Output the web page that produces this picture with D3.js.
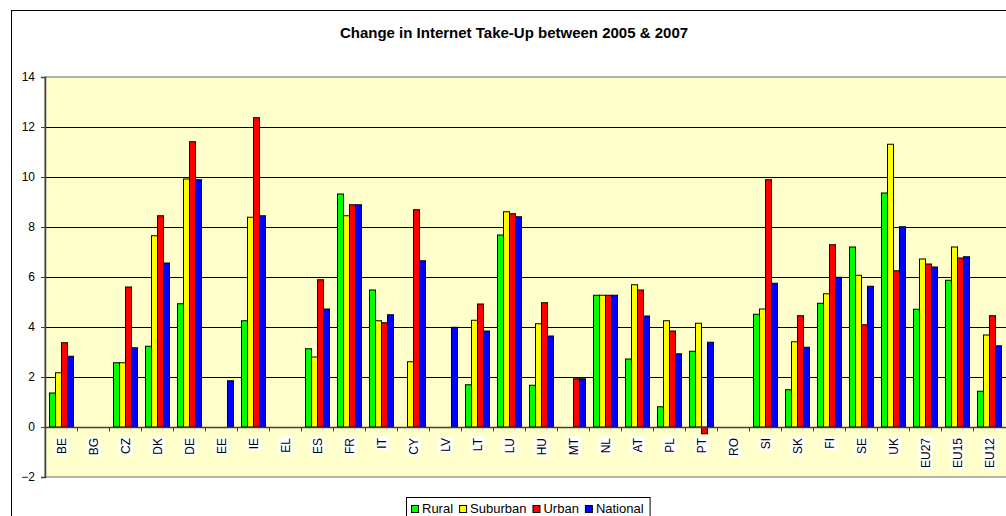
<!DOCTYPE html>
<html>
<head>
<meta charset="utf-8">
<script src="https://cdn.jsdelivr.net/npm/d3@7"></script>
<style>
  body { margin: 0; background: #fff; }
  svg { display: block; font-family: 'Liberation Sans', Arial, sans-serif; }
</style>
</head>
<body>
<svg id="chart" width="1006" height="516"></svg>
<script>
// Change in Internet take-up 2005 -> 2007, by area type

const countries = ['BE', 'BG', 'CZ', 'DK', 'DE', 'EE', 'IE', 'EL', 'ES', 'FR', 'IT', 'CY', 'LV', 'LT', 'LU',
    'HU', 'MT', 'NL', 'AT', 'PL', 'PT', 'RO', 'SI', 'SK', 'FI', 'SE', 'UK', 'EU27', 'EU15', 'EU12'];

const seriesNames = ['Rural', 'Suburban', 'Urban', 'National'];
const seriesColors = ['#00ff00', '#ffff00', '#ff0000', '#0000ff'];

// null = no bar shown
const rural = [1.36, null, 2.57, 3.23, 4.93, null, 4.25, null, 3.13, 9.32, 5.48, null, null, 1.69, 7.68,
    1.67, null, 5.27, 2.72, 0.81, 3.03, null, 4.51, 1.49, 4.95, 7.20, 9.36, 4.71, 5.87, 1.43];
const suburban = [2.17, null, 2.57, 7.65, 9.92, null, 8.39, null, 2.80, 8.45, 4.25, 2.61, null, 4.27, 8.61,
    4.13, null, 5.27, 5.69, 4.25, 4.15, null, 4.72, 3.41, 5.33, 6.07, 11.31, 6.72, 7.20, 3.68];
const urban = [3.37, null, 5.60, 8.45, 11.41, null, 12.37, null, 5.89, 8.89, 4.17, 8.69, null, 4.92, 8.53,
    4.97, 1.93, 5.27, 5.48, 3.84, -0.27, null, 9.89, 4.45, 7.29, 4.09, 6.25, 6.52, 6.76, 4.45];
const national = [2.83, null, 3.17, 6.56, 9.89, 1.85, 8.45, null, 4.72, 8.89, 4.49, 6.65, 3.99, 3.84, 8.41,
    3.64, 1.93, 5.27, 4.44, 2.93, 3.39, null, 5.75, 3.19, 5.99, 5.63, 8.01, 6.40, 6.81, 3.25];

const yTicks = [-2, 0, 2, 4, 6, 8, 10, 12, 14];

const seriesValues = [rural, suburban, urban, national];

const FONT = "'Liberation Sans', Arial, sans-serif";

const svg = d3.select('#chart');

// outer chart frame (runs off the right and bottom edge)
svg.append('rect')
    .attr('x', 11.5).attr('y', 10.5)
    .attr('width', 1100).attr('height', 600)
    .attr('fill', '#fff')
    .attr('stroke', '#000')
    .attr('stroke-width', 1);

const plot = { left: 45, top: 77, width: 960, height: 400 };

const x0 = d3.scaleBand()
    .domain(countries)
    .range([plot.left, plot.left + plot.width])
    .paddingInner(0)
    .paddingOuter(0);

const x1 = d3.scaleBand()
    .domain(seriesNames)
    .range([4, 28]);

const y = d3.scaleLinear()
    .domain([-2, 14])
    .range([plot.top + plot.height, plot.top]);

// plot background
svg.append('rect')
    .attr('x', plot.left).attr('y', plot.top)
    .attr('width', plot.width + 20).attr('height', plot.height)
    .attr('fill', '#ffffcc')
    .attr('stroke', '#808080')
    .attr('stroke-width', 1.2);

// gridlines
svg.append('g')
    .selectAll('line')
    .data(yTicks.filter(t => t > 0 && t < 14))
    .enter()
    .append('line')
    .attr('x1', plot.left).attr('x2', plot.left + plot.width + 20)
    .attr('y1', d => Math.round(y(d)) + 0.5).attr('y2', d => Math.round(y(d)) + 0.5)
    .attr('stroke', '#000')
    .attr('stroke-width', 1);

// y axis
const yAxis = svg.append('g')
    .attr('transform', `translate(${plot.left},0)`)
    .call(d3.axisLeft(y).tickValues(yTicks).tickSize(4).tickPadding(6).tickFormat(d3.format('d')));
yAxis.select('.domain').attr('stroke', '#404040').attr('stroke-width', 1.5);
yAxis.selectAll('.tick line').attr('stroke', '#404040');
yAxis.selectAll('.tick text')
    .style('font-size', '12px')
    .style('font-family', FONT)
    .attr('fill', '#000');

// bars
const groups = svg.append('g')
    .selectAll('g')
    .data(countries)
    .enter()
    .append('g')
    .attr('transform', d => `translate(${x0(d)},0)`);

groups.selectAll('rect')
    .data((c, i) => seriesNames.map((s, k) => ({ series: s, value: seriesValues[k][i], color: seriesColors[k] })))
    .enter()
    .filter(d => d.value !== null)
    .append('rect')
    .attr('x', d => x1(d.series) + 0.5)
    .attr('y', d => y(Math.max(0, d.value)))
    .attr('width', x1.bandwidth())
    .attr('height', d => Math.abs(y(d.value) - y(0)))
    .attr('fill', d => d.color)
    .attr('stroke', '#000')
    .attr('stroke-width', 1);

// zero line with category ticks
const xAxis = svg.append('g')
    .attr('transform', `translate(0,${Math.round(y(0)) + 0.5})`);
xAxis.append('line')
    .attr('x1', plot.left).attr('x2', plot.left + plot.width + 20)
    .attr('stroke', '#404040').attr('stroke-width', 1.5);
xAxis.selectAll('.cat-tick')
    .data(countries.slice(1))
    .enter()
    .append('line')
    .attr('class', 'cat-tick')
    .attr('x1', d => Math.round(x0(d)) + 0.5).attr('x2', d => Math.round(x0(d)) + 0.5)
    .attr('y1', 0).attr('y2', 4)
    .attr('stroke', '#404040');

// category labels, rotated, on white boxes
const labelTop = y(0) + 11;
const labels = svg.append('g')
    .selectAll('g')
    .data(countries)
    .enter()
    .append('g')
    .attr('transform', d => `translate(${x0(d) + x0.bandwidth() / 2 + 4.5},${labelTop}) rotate(-90)`);

labels.append('text')
    .attr('text-anchor', 'end')
    .attr('x', 0)
    .attr('y', 0)
    .style('font-size', '12px')
    .style('font-family', FONT)
    .attr('fill', '#000')
    .text(d => d);

labels.each(function () {
    const g = d3.select(this);
    const bb = g.select('text').node().getBBox();
    g.insert('rect', 'text')
        .attr('x', bb.x - 1).attr('y', bb.y)
        .attr('width', bb.width + 2).attr('height', bb.height)
        .attr('fill', '#fff');
});

// title
svg.append('text')
    .attr('x', 514)
    .attr('y', 38)
    .attr('text-anchor', 'middle')
    .style('font-size', '15px')
    .style('font-weight', 'bold')
    .style('font-family', FONT)
    .attr('fill', '#000')
    .text('Change in Internet Take-Up between 2005 & 2007');

// legend
const legend = svg.append('g');
const legendBox = legend.append('rect')
    .attr('x', 406.5).attr('y', 497.5)
    .attr('height', 30)
    .attr('fill', '#fff')
    .attr('stroke', '#000');

let lx = 411;
seriesNames.forEach((name, k) => {
    legend.append('rect')
        .attr('x', lx + 0.5).attr('y', 505.5)
        .attr('width', 7).attr('height', 7)
        .attr('fill', seriesColors[k])
        .attr('stroke', '#000');
    const t = legend.append('text')
        .attr('x', lx + 11)
        .attr('y', 512.5)
        .style('font-size', '13px')
        .style('font-family', FONT)
        .attr('fill', '#000')
        .text(name);
    lx += 11 + t.node().getComputedTextLength() + 6;
});
legendBox.attr('width', lx - 406);
</script>
</body>
</html>
